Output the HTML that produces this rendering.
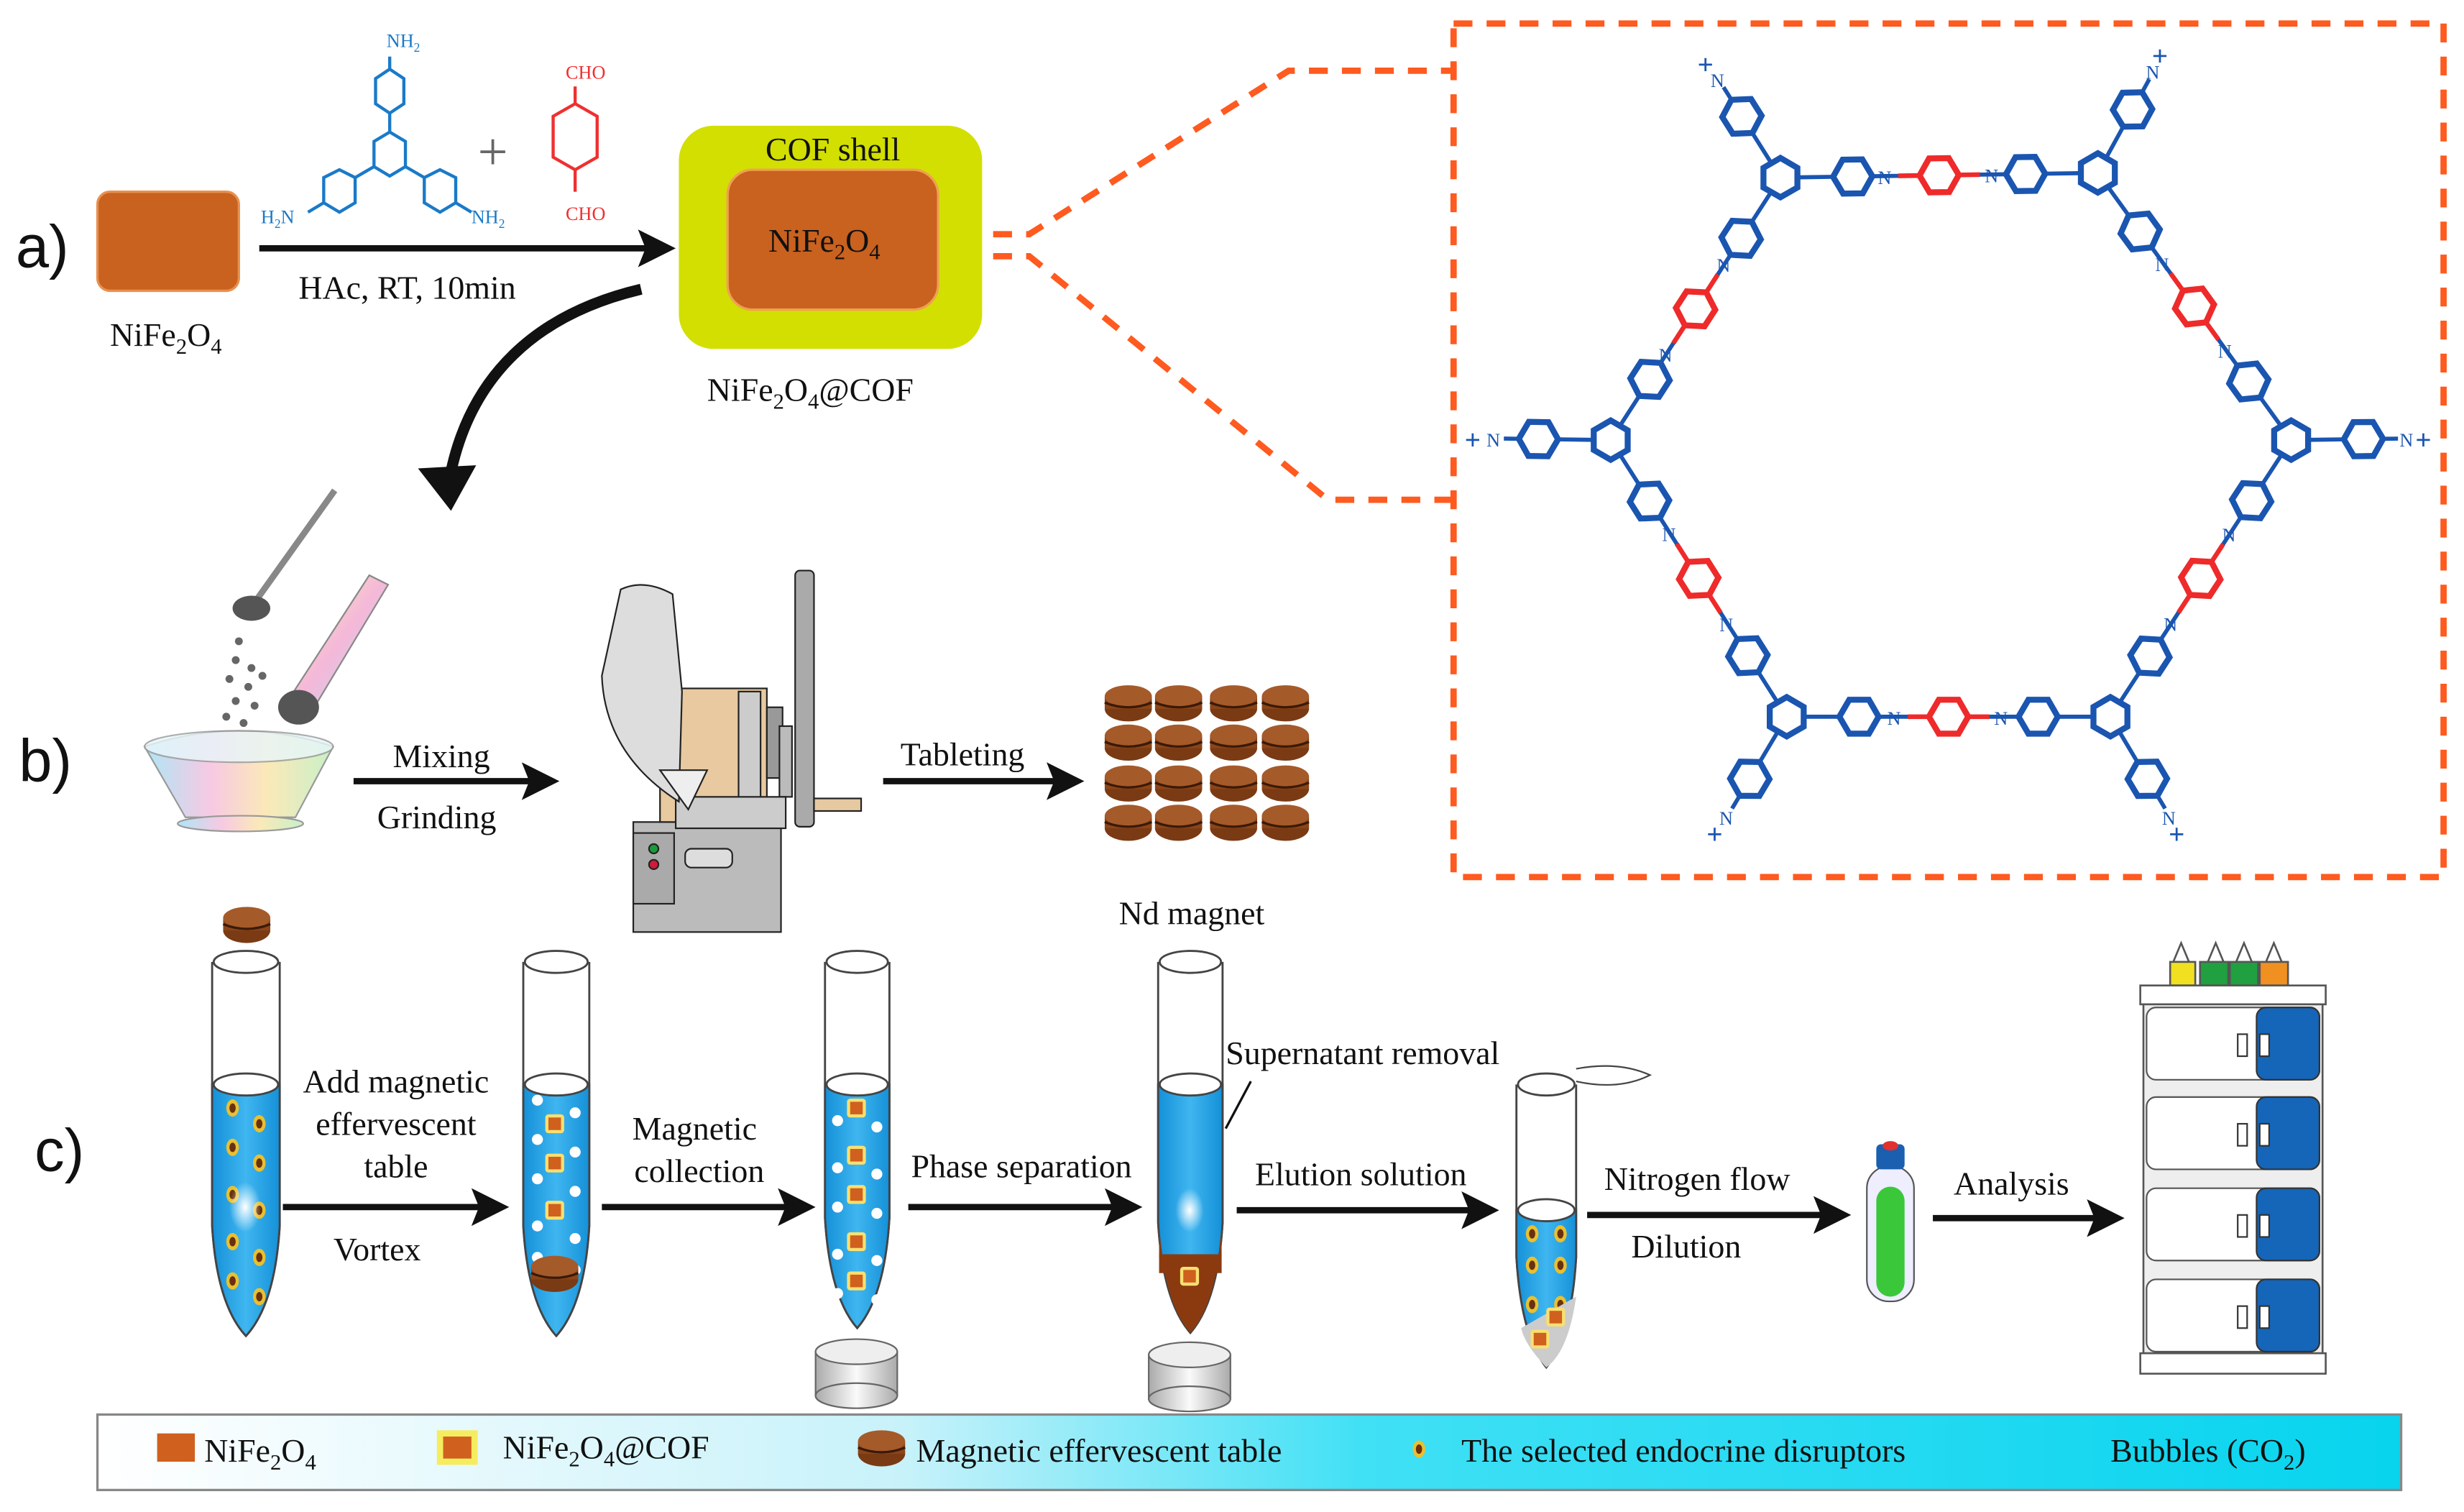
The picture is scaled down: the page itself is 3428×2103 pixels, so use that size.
<!DOCTYPE html>
<html><head><meta charset="utf-8"><style>
html,body{margin:0;padding:0;background:#fff}
svg{display:block}
text{font-family:"Liberation Serif",serif;fill:#111}
</style></head><body>
<svg id="s" width="3428" height="2103" viewBox="0 0 1568 962" preserveAspectRatio="none" xmlns="http://www.w3.org/2000/svg">
<defs>
<marker id="ah" markerWidth="6" markerHeight="6" refX="4" refY="3" orient="auto" markerUnits="strokeWidth"><path d="M0,0 L6,3 L0,6 L1.2,3 Z" fill="#111"/></marker>
<linearGradient id="bowl" x1="0" x2="1"><stop offset="0" stop-color="#aee6f5"/><stop offset=".35" stop-color="#f7c9e3"/><stop offset=".65" stop-color="#fbe9b8"/><stop offset="1" stop-color="#c8f0c8"/></linearGradient>
<linearGradient id="pest" x1="0" x2="1" y1="0" y2="1"><stop offset="0" stop-color="#f8f6b0"/><stop offset=".5" stop-color="#f5b8d8"/><stop offset="1" stop-color="#b8d8f8"/></linearGradient>
<linearGradient id="leg" x1="0" x2="1"><stop offset="0" stop-color="#ffffff"/><stop offset=".35" stop-color="#c8f2fa"/><stop offset=".55" stop-color="#40e0f5"/><stop offset="1" stop-color="#08d4ee"/></linearGradient>
<linearGradient id="liq" x1="0" x2="1"><stop offset="0" stop-color="#1590d8"/><stop offset=".5" stop-color="#3fb6f0"/><stop offset="1" stop-color="#1590d8"/></linearGradient>
<linearGradient id="mag" x1="0" x2="1"><stop offset="0" stop-color="#aaa"/><stop offset=".5" stop-color="#fafafa"/><stop offset="1" stop-color="#aaa"/></linearGradient>
<radialGradient id="glow"><stop offset="0" stop-color="#fff"/><stop offset="1" stop-color="#fff" stop-opacity="0"/></radialGradient>
<g id="tab"><ellipse cx="0" cy="4" rx="15" ry="8" fill="#7a3a14"/><rect x="-15" y="-4" width="30" height="8" fill="#8b4518"/><ellipse cx="0" cy="-4" rx="15" ry="7" fill="#a55a2a"/><path d="M-15,0 Q0,6 15,0" stroke="#3a1a08" stroke-width="1.5" fill="none"/></g>
<g id="dot"><ellipse cx="0" cy="0" rx="4" ry="5.5" fill="#e8c030"/><ellipse cx="0" cy="0" rx="2" ry="3" fill="#6a3010"/></g>
<g id="cof"><rect x="-6" y="-6" width="12" height="12" rx="2" fill="#f8e070"/><rect x="-4" y="-4" width="8" height="8" fill="#d0601e"/></g>
</defs>

<!-- a) -->
<text x="10" y="170" style="font-family:'Liberation Sans',sans-serif" font-size="38">a)</text>
<rect x="62" y="122" width="90" height="63" rx="8" fill="#c9611f" stroke="#e89050" stroke-width="1.5"/>
<text x="70" y="220" font-size="21">NiFe<tspan font-size="14" dy="5">2</tspan><tspan dy="-5">O</tspan><tspan font-size="14" dy="5">4</tspan></text>

<!-- blue monomer -->
<g stroke="#1a7ac8" stroke-width="2" fill="none">
<line x1="248" y1="36" x2="248" y2="44"/>
<polygon points="248,44 257,50 257,66 248,72 239,66 239,50"/>
<line x1="248" y1="72" x2="248" y2="84"/>
<polygon points="248,84 258,90 258,106 248,112 238,106 238,90"/>
<line x1="238" y1="106" x2="226" y2="113"/><line x1="258" y1="106" x2="270" y2="113"/>
<polygon points="216,108 226,113 226,129 216,135 206,129 206,113"/>
<polygon points="280,108 290,113 290,129 280,135 270,129 270,113"/>
<line x1="206" y1="129" x2="196" y2="135"/><line x1="290" y1="129" x2="300" y2="135"/>
</g>
<text x="246" y="30" font-size="12" style="fill:#1a7ac8">NH<tspan font-size="8" dy="3">2</tspan></text>
<text x="166" y="142" font-size="12" style="fill:#1a7ac8">H<tspan font-size="8" dy="3">2</tspan><tspan dy="-3">N</tspan></text>
<text x="300" y="142" font-size="12" style="fill:#1a7ac8">NH<tspan font-size="8" dy="3">2</tspan></text>
<text x="304" y="108" font-size="34" style="fill:#666">+</text>
<g stroke="#ef3030" stroke-width="2" fill="none">
<line x1="366" y1="55" x2="366" y2="66"/><polygon points="366,66 380,74 380,100 366,108 352,100 352,74"/><line x1="366" y1="108" x2="366" y2="122"/>
</g>
<text x="360" y="50" font-size="12" style="fill:#ef3030">CHO</text>
<text x="360" y="140" font-size="12" style="fill:#ef3030">CHO</text>

<line x1="165" y1="158" x2="422" y2="158" stroke="#111" stroke-width="4" marker-end="url(#ah)"/>
<text x="190" y="190" font-size="21">HAc, RT, 10min</text>

<rect x="432" y="80" width="193" height="142" rx="22" fill="#d2df00"/>
<rect x="463" y="108" width="134" height="89" rx="16" fill="#c9611f" stroke="#f0a050" stroke-width="1.5"/>
<text x="530" y="102" font-size="21" text-anchor="middle">COF shell</text>
<text x="489" y="160" font-size="21">NiFe<tspan font-size="14" dy="5">2</tspan><tspan dy="-5">O</tspan><tspan font-size="14" dy="5">4</tspan></text>
<text x="450" y="255" font-size="21">NiFe<tspan font-size="14" dy="5">2</tspan><tspan dy="-5">O</tspan><tspan font-size="14" dy="5">4</tspan><tspan dy="-5">@COF</tspan></text>

<!-- curved arrow -->
<path d="M408,184 C340,200 300,240 287,300" stroke="#111" stroke-width="7" fill="none"/>
<path d="M266,298 L287,325 L303,296 Z" fill="#111"/>

<!-- dashed lines -->
<g stroke="#ff5a1f" stroke-width="4" fill="none" stroke-dasharray="12,9">
<path d="M632,149 H655 L820,45 H925"/>
<path d="M632,163 H655 L845,318 H925"/>
<rect x="925" y="15" width="630" height="543"/>
</g>
<g id="cofnet"></g>

<!-- b) -->
<text x="12" y="497" style="font-family:'Liberation Sans',sans-serif" font-size="38">b)</text>
<line x1="213" y1="312" x2="163" y2="382" stroke="#888" stroke-width="4"/>
<ellipse cx="160" cy="387" rx="12" ry="8" fill="#555"/>
<g fill="#666"><circle cx="152" cy="408" r="2.5"/><circle cx="150" cy="420" r="2.5"/><circle cx="160" cy="425" r="2.5"/><circle cx="146" cy="432" r="2.5"/><circle cx="158" cy="437" r="2.5"/><circle cx="167" cy="430" r="2.5"/><circle cx="150" cy="446" r="2.5"/><circle cx="162" cy="449" r="2.5"/><circle cx="144" cy="456" r="2.5"/><circle cx="155" cy="460" r="2.5"/></g>
<path d="M235,366 L247,372 L200,450 L185,443 Z" fill="url(#pest)" stroke="#888"/>
<ellipse cx="190" cy="450" rx="13" ry="11" fill="#555"/>
<path d="M92,475 Q152,455 212,475 L188,520 L118,520 Z" fill="url(#bowl)" stroke="#999"/>
<ellipse cx="152" cy="475" rx="60" ry="10" fill="#e8f6fa" stroke="#999" opacity=".8"/>
<ellipse cx="153" cy="524" rx="40" ry="5" fill="url(#bowl)" stroke="#999"/>
<line x1="225" y1="497" x2="348" y2="497" stroke="#111" stroke-width="4" marker-end="url(#ah)"/>
<text x="250" y="488" font-size="21">Mixing</text>
<text x="240" y="527" font-size="21">Grinding</text>

<!-- tablet press -->
<g stroke="#222" stroke-width="1">
<rect x="506" y="363" width="12" height="163" rx="3" fill="#aaa"/>
<rect x="518" y="508" width="30" height="8" fill="#e6c9a0"/>
<rect x="403" y="523" width="94" height="70" fill="#bbb"/>
<rect x="403" y="530" width="26" height="45" fill="#aaa"/>
<circle cx="416" cy="540" r="3" fill="#1a9a3a"/><circle cx="416" cy="550" r="3" fill="#d01a3a"/>
<rect x="420" y="438" width="68" height="85" fill="#e8c9a0"/>
<rect x="470" y="440" width="14" height="82" fill="#ccc"/>
<rect x="488" y="450" width="10" height="45" fill="#999"/>
<rect x="496" y="462" width="8" height="45" fill="#bbb"/>
<rect x="430" y="507" width="70" height="20" fill="#ccc"/>
<rect x="436" y="540" width="30" height="12" rx="4" fill="#ddd"/>
<path d="M395,375 Q410,368 428,378 L434,440 L432,510 Q385,480 383,430 Z" fill="#ddd"/>
<path d="M420,490 H450 L438,515 Z" fill="#eee"/>
</g>
<line x1="562" y1="497" x2="682" y2="497" stroke="#111" stroke-width="4" marker-end="url(#ah)"/>
<text x="573" y="487" font-size="21">Tableting</text>
<g id="tabs"></g>
<text x="712" y="588" font-size="21">Nd magnet</text>

<!-- c) -->
<text x="22" y="745" style="font-family:'Liberation Sans',sans-serif" font-size="38">c)</text>
<g id="tubes"></g>
<use href="#tab" x="157" y="588"/>
<text x="252" y="695" font-size="21" text-anchor="middle">Add magnetic</text>
<text x="252" y="722" font-size="21" text-anchor="middle">effervescent</text>
<text x="252" y="749" font-size="21" text-anchor="middle">table</text>
<line x1="180" y1="768" x2="316" y2="768" stroke="#111" stroke-width="4" marker-end="url(#ah)"/>
<text x="240" y="802" font-size="21" text-anchor="middle">Vortex</text>
<text x="442" y="725" font-size="21" text-anchor="middle">Magnetic</text>
<text x="445" y="752" font-size="21" text-anchor="middle">collection</text>
<line x1="383" y1="768" x2="511" y2="768" stroke="#111" stroke-width="4" marker-end="url(#ah)"/>
<text x="650" y="749" font-size="21" text-anchor="middle">Phase separation</text>
<line x1="578" y1="768" x2="719" y2="768" stroke="#111" stroke-width="4" marker-end="url(#ah)"/>
<text x="780" y="677" font-size="21">Supernatant removal</text>
<line x1="780" y1="718" x2="796" y2="688" stroke="#111" stroke-width="1.5"/>
<text x="866" y="754" font-size="21" text-anchor="middle">Elution solution</text>
<line x1="787" y1="770" x2="946" y2="770" stroke="#111" stroke-width="4" marker-end="url(#ah)"/>
<text x="1080" y="757" font-size="21" text-anchor="middle">Nitrogen flow</text>
<text x="1073" y="800" font-size="21" text-anchor="middle">Dilution</text>
<line x1="1010" y1="773" x2="1170" y2="773" stroke="#111" stroke-width="4" marker-end="url(#ah)"/>
<text x="1280" y="760" font-size="21" text-anchor="middle">Analysis</text>
<line x1="1230" y1="775" x2="1344" y2="775" stroke="#111" stroke-width="4" marker-end="url(#ah)"/>

<!-- vial -->
<rect x="1188" y="742" width="30" height="86" rx="14" fill="#eef" stroke="#555"/>
<rect x="1194" y="755" width="18" height="70" rx="9" fill="#3ac83a"/>
<rect x="1194" y="728" width="18" height="16" rx="3" fill="#1a5fb0"/>
<ellipse cx="1203" cy="729" rx="5" ry="3" fill="#e03030"/>

<!-- HPLC -->
<g stroke="#555" stroke-width="1.2">
<g fill="#fff"><path d="M1383,612 L1388,600 L1393,612 Z"/><path d="M1405,612 L1410,600 L1415,612 Z"/><path d="M1423,612 L1428,600 L1433,612 Z"/><path d="M1442,612 L1447,600 L1452,612 Z"/></g>
<rect x="1381" y="612" width="16" height="15" fill="#f0e020"/>
<rect x="1400" y="612" width="18" height="15" fill="#20a040"/>
<rect x="1419" y="612" width="18" height="15" fill="#20a040"/>
<rect x="1438" y="612" width="18" height="15" fill="#f09020"/>
<rect x="1362" y="627" width="118" height="12" fill="#fff"/>
<rect x="1364" y="639" width="114" height="222" fill="#eee"/>
<rect x="1362" y="861" width="118" height="13" fill="#fff"/>
</g>
<g id="hplc"></g>

<!-- legend -->
<rect x="62" y="900" width="1466" height="48" fill="url(#leg)" stroke="#888" stroke-width="1.5"/>
<rect x="100" y="912" width="24" height="18" fill="#d0601e"/>
<text x="130" y="930" font-size="21">NiFe<tspan font-size="14" dy="5">2</tspan><tspan dy="-5">O</tspan><tspan font-size="14" dy="5">4</tspan></text>
<rect x="278" y="910" width="26" height="22" fill="#f6ec60"/><rect x="282" y="914" width="18" height="14" fill="#d0601e"/>
<text x="320" y="928" font-size="21">NiFe<tspan font-size="14" dy="5">2</tspan><tspan dy="-5">O</tspan><tspan font-size="14" dy="5">4</tspan><tspan dy="-5">@COF</tspan></text>
<use href="#tab" x="561" y="921"/>
<text x="583" y="930" font-size="21">Magnetic effervescent table</text>
<use href="#dot" x="903" y="922"/>
<text x="930" y="930" font-size="21">The selected endocrine disruptors</text>
<text x="1343" y="930" font-size="21">Bubbles (CO<tspan font-size="14" dy="5">2</tspan><tspan dy="-5">)</tspan></text>
</svg>
<script>
const NS="http://www.w3.org/2000/svg";
function el(p,t,a){const e=document.createElementNS(NS,t);for(const k in a)e.setAttribute(k,a[k]);p.appendChild(e);return e;}
function ring(g,cx,cy,r,col,rot){let pts=[];for(let i=0;i<6;i++){const a=rot+i*Math.PI/3;pts.push((cx+r*Math.cos(a)).toFixed(1)+","+(cy+r*Math.sin(a)).toFixed(1));}
el(g,"polygon",{points:pts.join(" "),fill:"none",stroke:col,"stroke-width":3.8});}
function ln(g,x1,y1,x2,y2,c,w){el(g,"line",{x1,y1,x2,y2,stroke:c,"stroke-width":w||2.6});}
const g=document.getElementById("cofnet");
const B="#1a55b0",R="#ee2a2a";
const N=[[1133,113],[1335,110],[1458,280],[1343,456],[1137,456],[1025,280]];
const C=[1240,283];
const RR=12.5;
for(let i=0;i<6;i++){const [x,y]=N[i];const [a,b]=N[(i+1)%6];const mx=(x+a)/2,my=(y+b)/2;const dx=a-x,dy=b-y,L=Math.hypot(dx,dy),ux=dx/L,uy=dy/L;
ring(g,x+ux*46,y+uy*46,RR,B,Math.atan2(uy,ux));ring(g,a-ux*46,b-uy*46,RR,B,Math.atan2(uy,ux));
ln(g,x+ux*58,y+uy*58,mx-ux*13,my-uy*13,B);ln(g,mx+ux*13,my+uy*13,a-ux*58,b-uy*58,B);
ring(g,mx,my,RR,R,Math.atan2(uy,ux));
ln(g,mx-ux*12,my-uy*12,mx-ux*26,my-uy*26,R,3);ln(g,mx+ux*12,my+uy*12,mx+ux*26,my+uy*26,R,3);
ln(g,x+ux*12,y+uy*12,x+ux*34,y+uy*34,B);ln(g,a-ux*12,b-uy*12,a-ux*34,b-uy*34,B);
const t1=el(g,"text",{x:mx-ux*34-5,y:my-uy*34+5,"font-size":12,style:"fill:"+B});t1.textContent="N";
const t2=el(g,"text",{x:mx+ux*34-5,y:my+uy*34+5,"font-size":12,style:"fill:"+B});t2.textContent="N";}
for(let i=0;i<6;i++){const [x,y]=N[i];ring(g,x,y,RR,B,Math.PI/6);let dx=x-C[0],dy=y-C[1];const L=Math.hypot(dx,dy);dx/=L;dy/=L;
ln(g,x+dx*12,y+dy*12,x+dx*34,y+dy*34,B);ring(g,x+dx*46,y+dy*46,RR,B,Math.atan2(dy,dx));ln(g,x+dx*58,y+dy*58,x+dx*68,y+dy*68,B);
const t=el(g,"text",{x:x+dx*74-5,y:y+dy*74+5,"font-size":12,style:"fill:"+B});t.textContent="N";
const t2=el(g,"text",{x:x+dx*86-7,y:y+dy*86+7,"font-size":18,"font-weight":"bold",style:"fill:"+B});t2.textContent="+";}
const tb=document.getElementById("tabs");
[718,750,785,818].forEach(x=>[447,472,498,523].forEach(y=>el(tb,"use",{href:"#tab",x,y})));
const tu=document.getElementById("tubes");
function tube(x,w,top,liq,bot,fill){const cx=x+w/2;
el(tu,"path",{d:`M${x},${top} V${bot-70} Q${x+3},${bot-20} ${cx},${bot} Q${x+w-3},${bot-20} ${x+w},${bot-70} V${top}`,fill:"#fff",stroke:"#444","stroke-width":1.3});
el(tu,"path",{d:`M${x},${liq} V${bot-70} Q${x+3},${bot-20} ${cx},${bot} Q${x+w-3},${bot-20} ${x+w},${bot-70} V${liq} Z`,fill:fill||"url(#liq)",stroke:"#444","stroke-width":1.3});
el(tu,"ellipse",{cx,cy:top,rx:w/2-1,ry:7,fill:"#fff",stroke:"#444","stroke-width":1.3});
el(tu,"ellipse",{cx,cy:liq,rx:w/2-1,ry:7,fill:"#fff",stroke:"#444","stroke-width":1.3});return cx;}
tube(135,43,612,690,850);[705,730,760,790,815].forEach((y,i)=>{el(tu,"use",{href:"#dot",x:148,y});el(tu,"use",{href:"#dot",x:165,y:y+10});});
el(tu,"ellipse",{cx:156,cy:768,rx:10,ry:16,fill:"url(#glow)"});
tube(333,42,612,690,850);[715,740,770].forEach(y=>{el(tu,"use",{href:"#cof",x:353,y});});
[700,725,750,780,800].forEach(y=>{el(tu,"circle",{cx:342,cy:y,r:3.5,fill:"#fff"});el(tu,"circle",{cx:366,cy:y+8,r:3.5,fill:"#fff"});});
el(tu,"use",{href:"#tab",x:353,y:810});
tube(525,41,612,690,845);[705,735,760,790,815].forEach(y=>{el(tu,"use",{href:"#cof",x:545,y});el(tu,"circle",{cx:533,cy:y+8,r:3.5,fill:"#fff"});el(tu,"circle",{cx:558,cy:y+12,r:3.5,fill:"#fff"});});
function magnet(cx,y){el(tu,"rect",{x:cx-26,y:y,width:52,height:28,fill:"url(#mag)",stroke:"#666"});el(tu,"ellipse",{cx,cy:y+28,rx:26,ry:8,fill:"url(#mag)",stroke:"#666"});el(tu,"ellipse",{cx,cy:y,rx:26,ry:8,fill:"#eee",stroke:"#666"});}
magnet(545,860);
tube(737,41,612,690,848);
el(tu,"path",{d:`M737.6,800 V778 Q740,828 757.5,848 Q775,828 777.4,778 V800 Z`,fill:"#8b3a10"});
el(tu,"rect",{x:737.6,y:798,width:39.8,height:12,fill:"#8b3a10"});
el(tu,"use",{href:"#cof",x:757,y:812});
el(tu,"ellipse",{cx:757,cy:770,rx:9,ry:14,fill:"url(#glow)"});
magnet(757,862);
tube(965,38,690,770,870);
el(tu,"path",{d:"M1003,680 Q1030,675 1050,684 Q1030,694 1003,688",fill:"#fff",stroke:"#444"});
[785,805,830].forEach(y=>{el(tu,"use",{href:"#dot",x:975,y});el(tu,"use",{href:"#dot",x:993,y});});
el(tu,"path",{d:"M1003,825 Q998,860 984,870 Q970,855 968,845 Z",fill:"#ccc"});
el(tu,"use",{href:"#cof",x:990,y:838});el(tu,"use",{href:"#cof",x:980,y:852});
const h=document.getElementById("hplc");
[641,698,756,814].forEach(y=>{el(h,"rect",{x:1366,y:y,width:110,height:46,rx:6,fill:"#fff",stroke:"#555"});
el(h,"rect",{x:1436,y:y,width:40,height:46,rx:6,fill:"#1565b8",stroke:"#333"});
el(h,"rect",{x:1424,y:y+17,width:6,height:14,fill:"#fff",stroke:"#333"});el(h,"rect",{x:1438,y:y+17,width:6,height:14,fill:"#fff",stroke:"#333"});});
</script>
</body></html>
